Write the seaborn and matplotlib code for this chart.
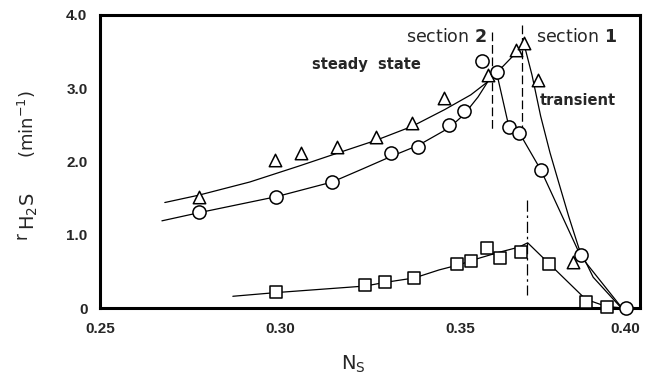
import matplotlib
matplotlib.use("Agg")
import matplotlib.pyplot as plt
import seaborn as sns

sns.set_style("white")
plt.rcParams["font.family"] = ["DejaVu Sans"]
plt.rcParams["mathtext.fontset"] = "dejavusans"

# ---- measured points (N_S, r_H2S) ----
tri_x = [0.2774, 0.2985, 0.3059, 0.3157, 0.3267, 0.3367, 0.3456, 0.3578, 0.3655, 0.3677, 0.3716, 0.3813]
tri_y = [1.52, 2.02, 2.12, 2.20, 2.33, 2.53, 2.87, 3.18, 3.52, 3.62, 3.11, 0.63]

circ_x = [0.2774, 0.2990, 0.3145, 0.3309, 0.3384, 0.3470, 0.3511, 0.3561, 0.3603, 0.3636, 0.3665, 0.3725, 0.3835, 0.3960]
circ_y = [1.31, 1.52, 1.72, 2.12, 2.20, 2.50, 2.69, 3.37, 3.22, 2.47, 2.39, 1.88, 0.72, 0.0]

sq_x = [0.2988, 0.3237, 0.3292, 0.3373, 0.3492, 0.3530, 0.3575, 0.3611, 0.3669, 0.3747, 0.3849, 0.3907]
sq_y = [0.22, 0.31, 0.36, 0.41, 0.60, 0.64, 0.82, 0.68, 0.76, 0.60, 0.08, 0.02]

# ---- fitted curves ----
tri_steady_x = [0.268, 0.2774, 0.2916, 0.3054, 0.3157, 0.3267, 0.3367, 0.3458, 0.3530, 0.3580, 0.3655, 0.3677]
tri_steady_y = [1.44, 1.54, 1.72, 1.94, 2.11, 2.29, 2.48, 2.71, 2.91, 3.10, 3.48, 3.62]

tri_trans_x = [0.3677, 0.3700, 0.3724, 0.3750, 0.3775, 0.3802, 0.3830, 0.3870, 0.3948]
tri_trans_y = [3.62, 3.18, 2.62, 2.12, 1.70, 1.25, 0.82, 0.42, 0.0]

circ_curve_x = [0.2672, 0.2774, 0.2990, 0.3145, 0.3230, 0.3309, 0.3384, 0.3470, 0.3511, 0.3550, 0.3585,
                0.3606, 0.3636, 0.3665, 0.3725, 0.3835, 0.3950]
circ_curve_y = [1.19, 1.30, 1.52, 1.72, 1.90, 2.07, 2.22, 2.46, 2.64, 2.88, 3.15,
                3.12, 2.47, 2.39, 1.88, 0.71, 0.0]

sq_curve_x = [0.2869, 0.2988, 0.3237, 0.3292, 0.3373, 0.3442, 0.3497, 0.3553, 0.3608,
              0.3663, 0.3688, 0.3849, 0.3907, 0.3955]
sq_curve_y = [0.16, 0.21, 0.30, 0.35, 0.41, 0.52, 0.59, 0.68, 0.76,
              0.83, 0.89, 0.12, 0.02, 0.0]

# section boundaries
section2_x = 0.3589
section1_x = 0.3672
square_peak_x = 0.3686

x_ticks = [0.25, 0.30, 0.35, 0.40]
x_tick_labels = ["0.25", "0.30", "0.35", "0.40"]
y_ticks = [0, 1, 2, 3, 4]
y_tick_labels = ["0", "1.0", "2.0", "3.0", "4.0"]

W, H = 650, 383
fig = plt.figure(figsize=(W / 100, H / 100), dpi=100)
ax = fig.add_axes([100 / W, 1 - 308 / H, 540 / W, 293 / H])

line_kw = dict(color="black", linewidth=0.9, sort=False, estimator=None, legend=False, zorder=2)
sns.lineplot(x=tri_steady_x, y=tri_steady_y, ax=ax, **line_kw)
sns.lineplot(x=tri_trans_x, y=tri_trans_y, ax=ax, **line_kw)
sns.lineplot(x=circ_curve_x, y=circ_curve_y, ax=ax, **line_kw)
sns.lineplot(x=sq_curve_x, y=sq_curve_y, ax=ax, **line_kw)

mk_kw = dict(color="white", edgecolor="black", linewidth=1.1, zorder=3, clip_on=False, legend=False)
sns.scatterplot(x=tri_x, y=tri_y, marker="^", s=80, ax=ax, **mk_kw)
sns.scatterplot(x=circ_x, y=circ_y, marker="o", s=90, ax=ax, **mk_kw)
sns.scatterplot(x=sq_x, y=sq_y, marker="s", s=75, ax=ax, **mk_kw)

# section markers
ax.plot([section2_x, section2_x], [3.77, 2.40], color="black", lw=0.9, dashes=(7, 3), zorder=1)
ax.plot([section1_x, section1_x], [3.86, 2.45], color="black", lw=0.9, dashes=(7, 3), zorder=1)
ax.plot([square_peak_x, square_peak_x], [1.47, 0.18], color="black", lw=0.9,
        dashes=(9, 3, 2, 3), zorder=1)

ax.text(0.3573, 3.70, r"section $\mathbf{2}$", fontsize=12.5, ha="right", va="center")
ax.text(0.3712, 3.70, r"section $\mathbf{1}$", fontsize=12.5, ha="left", va="center")
ax.text(0.3090, 3.33, "steady  state", fontsize=10.5, fontweight="bold", ha="left", va="center")
ax.text(0.3722, 2.83, "transient", fontsize=10.5, fontweight="bold", ha="left", va="center")

ax.set_xlim(0.25, 0.40)
ax.set_ylim(0, 4)
ax.set_xticks(x_ticks)
ax.set_xticklabels(x_tick_labels, fontsize=11, fontweight="bold", family="Liberation Sans")
ax.set_yticks(y_ticks)
ax.set_yticklabels(y_tick_labels, fontsize=11, fontweight="bold", family="Liberation Sans")
ax.get_xticklabels()[-1].set_horizontalalignment("right")
ax.tick_params(axis="both", direction="in", length=5, width=1.5, color="black")
ax.tick_params(axis="x", pad=10)
ax.tick_params(axis="y", pad=9)

for sp in ax.spines.values():
    sp.set_visible(True)
    sp.set_linewidth(2.2)
    sp.set_color("black")

ax.set_xlabel(r"$\mathregular{N_S}$", fontsize=14)
ax.xaxis.set_label_coords(253 / 540, -46 / 293)

# y-axis title: small "r" with a large H2S subscript, then the unit
ax.set_ylabel("")
fig.text(21 / W, 1 - 236 / H, "r", fontsize=12, rotation=90, ha="center", va="center")
fig.text(29 / W, 1 - 211 / H, r"H$_2$S", fontsize=14, rotation=90, ha="center", va="center")
fig.text(27 / W, 1 - 124 / H, r"(min$^{-1}$)", fontsize=13, rotation=90, ha="center", va="center")

fig.savefig("out.png", dpi=100)
